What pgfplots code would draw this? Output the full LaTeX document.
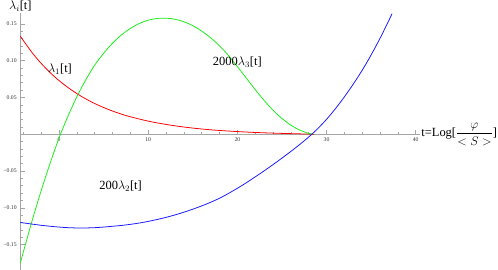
\documentclass[border=0pt]{standalone}
\usepackage{fontspec}
\setmainfont{Liberation Serif}
\usepackage{pgfplots}
\pgfplotsset{compat=1.18}
\definecolor{mred}{rgb}{1,0,0}
\definecolor{mgreen}{rgb}{0.1,0.93,0.1}
\definecolor{mblue}{rgb}{0.1,0.1,1}
\definecolor{axgray}{rgb}{0.65,0.65,0.65}
\begin{document}
\begin{tikzpicture}
\begin{axis}[
  scale only axis, width=383bp, height=246bp,
  xmin=-4.34, xmax=40.5, ymin=-0.184, ymax=0.165,
  axis x line=middle, axis y line=left,
  axis line style={-, draw=axgray, line width=0.6pt},
  every inner x axis line/.append style={-},
  every outer y axis line/.append style={-},
  xtick={-10,0,10,20,30,40}, minor x tick num=4,
  ytick={-0.15,-0.1,-0.05,0,0.05,0.1,0.15},
  yticklabels={−0.15,−0.10,−0.05,,0.05,0.10,0.15},
  minor y tick num=4,
  tick align=inside,
  major tick length=4bp, minor tick length=2.5bp,
  tick style={axgray, line width=0.5pt},
  ticklabel style={font=\fontsize{5.5}{6}\selectfont, text=black!80},
  /pgf/number format/assume math mode=true,
  clip=false,
]
\addplot[mred, line width=0.75pt, smooth] coordinates {
(-4.34,0.1331) (-3,0.1105) (-2,0.0962) (-1,0.0837) (0,0.0729) (1,0.0635) (2,0.0552)
(3,0.0480) (4,0.0417) (5,0.0363) (6,0.0315) (7,0.0273) (8,0.0237) (10,0.0178)
(12,0.0133) (14,0.0098) (16,0.0071) (18,0.0051) (20,0.0036) (22,0.0024) (24,0.0015)
(26,0.0008) (28.6,0)
};
\addplot[mgreen, line width=0.75pt, smooth] coordinates {
(-4.34,-0.175) (-4,-0.1597) (-3,-0.1166) (-2,-0.0765) (-1,-0.0394) (0,-0.005)
(1,0.0245) (2,0.051) (3,0.074) (4,0.094) (5,0.110) (6,0.1238) (7,0.135) (8,0.1438)
(9,0.1505) (10,0.155) (11,0.1573) (11.8,0.1578) (12.8,0.1567) (13.8,0.1537)
(14.8,0.1488) (15.8,0.1418) (16.8,0.1330) (17.8,0.1225) (18.8,0.1100) (19.8,0.0950)
(20.8,0.0795) (21.8,0.0638) (22.8,0.0488) (23.8,0.0352) (24.8,0.0235) (25.8,0.0140)
(26.8,0.0067) (27.8,0.0019) (28.4,0)
};
\addplot[mblue, line width=0.75pt, smooth] coordinates {
(-4.34,-0.1200) (-3,-0.1222) (-2,-0.1238) (-1,-0.1251) (0,-0.1262) (1,-0.1270)
(2,-0.1274) (3,-0.1274) (4,-0.1270) (5,-0.1262) (6,-0.1251) (7,-0.1240) (8,-0.1225)
(9,-0.1207) (10,-0.1185) (11,-0.1159) (12,-0.1130) (13,-0.1097) (14,-0.1060)
(15,-0.1019) (16,-0.0974) (17,-0.0925) (18,-0.0870) (19,-0.0805) (20,-0.0735)
(21,-0.0660) (22,-0.0580) (23,-0.0498) (24,-0.0413) (25,-0.0325) (26,-0.0234)
(27,-0.0139) (28,-0.0038) (29,0.0074) (30,0.0202) (31,0.0347) (32,0.0507)
(33,0.0681) (34,0.0869) (35,0.1077) (36,0.1303) (37,0.1548) (37.35,0.1638)
};
\node[font=\fontsize{12}{14}\selectfont] at (axis cs:0.1,0.0885) {$\lambda_1$[t]};
\node[font=\fontsize{12}{14}\selectfont] at (axis cs:20,0.098) {2000$\lambda_3$[t]};
\node[font=\fontsize{12}{14}\selectfont] at (axis cs:6.9,-0.071) {200$\lambda_2$[t]};
\node[font=\fontsize{12}{14}\selectfont, anchor=south, inner sep=1bp] at (axis cs:-4.34,0.165) {$\lambda_i$[t]};
\node[font=\fontsize{12}{14}\selectfont, anchor=west, inner sep=1bp] at (axis cs:40.5,0) {t=Log[$\displaystyle\frac{\varphi}{<S>}$]};
\end{axis}
\end{tikzpicture}
\end{document}
